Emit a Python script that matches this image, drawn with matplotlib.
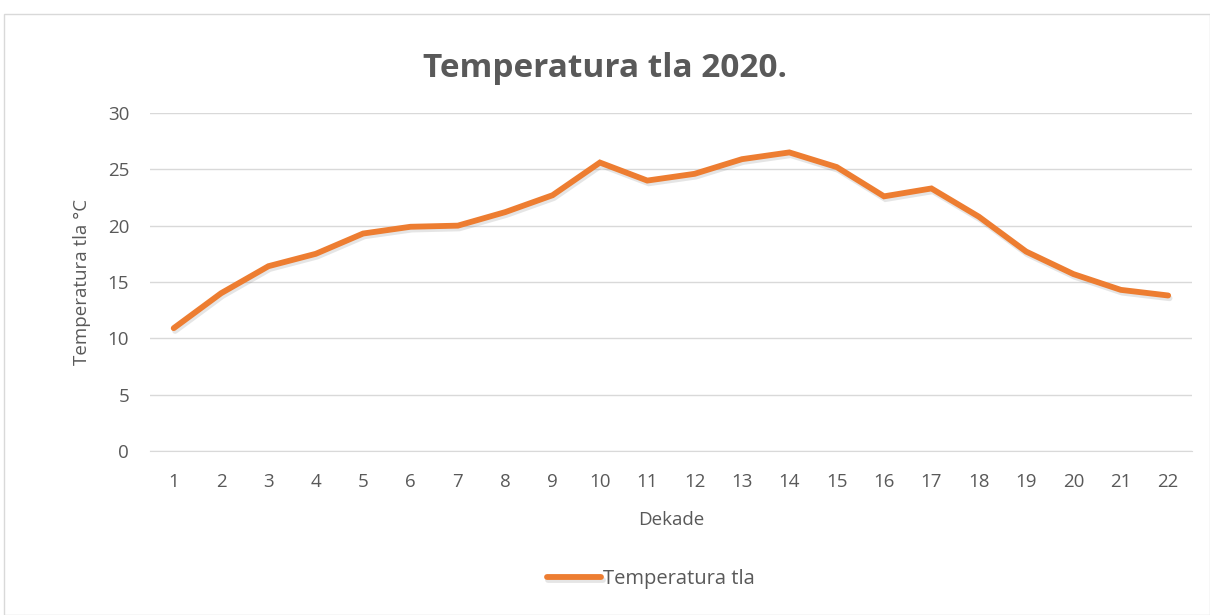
import numpy as np
import matplotlib.pyplot as plt
import matplotlib.patheffects as pe
from matplotlib.patches import Rectangle

# dekade i temperatura tla
dekade = list(range(1, 23))
temperatura = [10.9, 14.0, 16.4, 17.5, 19.3, 19.9, 20.0, 21.2, 22.7, 25.6, 24.0,
               24.6, 25.9, 26.5, 25.2, 22.6, 23.3, 20.8, 17.7, 15.7, 14.3, 13.8]
y_ticks = [0, 5, 10, 15, 20, 25, 30]

plt.rcParams['font.family'] = ['Open Sans', 'DejaVu Sans']
siva = '#595959'
narandzasta = '#ED7D31'

fig = plt.figure(figsize=(12.1, 6.15), dpi=100)
fig.patches.append(Rectangle((4 / 1210, 0), 1 - 4 / 1210, 1 - 14 / 615,
                             transform=fig.transFigure, fill=False,
                             edgecolor='#D9D9D9', linewidth=1))

ax = fig.add_axes([0.124, 0.2667, 0.861, 0.5496])
ax.plot(dekade, temperatura, color=narandzasta, linewidth=4.2, solid_capstyle='round',
        solid_joinstyle='miter', label='Temperatura tla',
        path_effects=[pe.SimpleLineShadow(offset=(1, -2), shadow_color='gray', alpha=0.2),
                      pe.Normal()])

ax.set_xlim(0.5, 22.5)
ax.set_ylim(0, 30)
ax.set_xticks(dekade)
ax.set_yticks(y_ticks)
ax.tick_params(length=0, labelsize=13.5, labelcolor=siva)
ax.tick_params(axis='x', pad=16)
ax.tick_params(axis='y', pad=15)
ax.grid(axis='y', color='#D9D9D9', linewidth=1)
ax.set_axisbelow(True)
for s in ['top', 'right', 'left']:
    ax.spines[s].set_visible(False)
ax.spines['bottom'].set_color('#D9D9D9')

ax.set_xlabel('Dekade', fontsize=13.5, color=siva, labelpad=14)
ax.set_ylabel('Temperatura tla °C', fontsize=13.5, color=siva, labelpad=12)

fig.text(0.5, 0.888, 'Temperatura tla 2020.', ha='center', va='center',
         fontsize=24, fontweight='bold', color=siva)

leg = fig.legend(loc='center', bbox_to_anchor=(0.538, 0.058), frameon=False,
                 fontsize=14.5, handlelength=2.7, handletextpad=0.1)
for t in leg.get_texts():
    t.set_color(siva)

fig.savefig('out.png', dpi=100)
